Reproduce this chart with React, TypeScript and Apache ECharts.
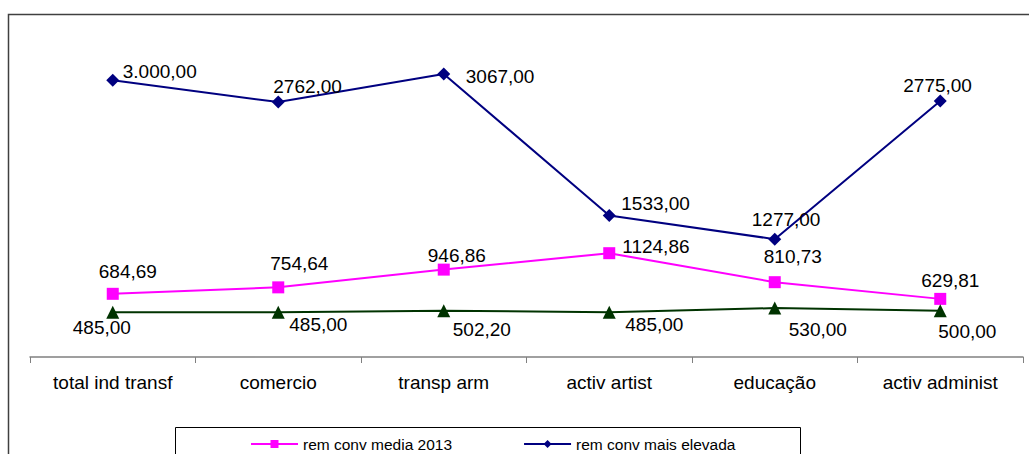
import React, { useEffect, useRef } from "react";
import * as echarts from "echarts";

const categories = ["total ind transf", "comercio", "transp arm", "activ artist", "educação", "activ administ"];
const mediaValues = [684.69, 754.64, 946.86, 1124.86, 810.73, 629.81];
const mediaLabels = ["684,69", "754,64", "946,86", "1124,86", "810,73", "629,81"];
const elevadaValues = [3000, 2762, 3067, 1533, 1277, 2775];
const elevadaLabels = ["3.000,00", "2762,00", "3067,00", "1533,00", "1277,00", "2775,00"];
const minimaValues = [485, 485, 502.2, 485, 530, 500];
const minimaLabels = ["485,00", "485,00", "502,20", "485,00", "530,00", "500,00"];

const seriesNames = ["rem conv media 2013", "rem conv mais elevada", "rem conv minima"];

// label placement (text left edge / vertical centre relative to the point)
const mediaOffsets = [[-14, -22], [-8, -24], [-16, -14], [13, -7], [-11, -26], [-19, -18]];
const elevadaOffsets = [[10, -9], [-5, -16], [22, 3], [12, -12], [-23, -20], [-37, -15]];
const minimaOffsets = [[-40, 15], [11, 12], [9, 19], [16, 12], [14, 21], [-2, 21]];

const FONT = "'Liberation Sans', Arial, sans-serif";

function buildData(values: number[], labels: string[], offsets: number[][]) {
  return values.map((v, i) => ({
    value: v,
    label: { formatter: labels[i], offset: offsets[i] },
  }));
}

const labelBase = {
  show: true,
  position: "inside" as const,
  align: "left" as const,
  verticalAlign: "middle" as const,
  color: "#000",
  fontSize: 19,
  fontFamily: FONT,
};

export default function App() {
  const ref = useRef<HTMLDivElement>(null);
  useEffect(() => {
    if (!ref.current) return;
    const chart = echarts.init(ref.current, undefined, { renderer: "svg" });
    chart.setOption({
      animation: false,
      backgroundColor: "#fff",
      grid: { left: 30, right: 6, top: 34, bottom: 97, containLabel: false },
      xAxis: {
        type: "category",
        data: categories,
        boundaryGap: true,
        axisLine: { lineStyle: { color: "#808080", width: 1.5 } },
        axisTick: { show: true, length: 6, inside: false, lineStyle: { color: "#808080", width: 1 } },
        axisLabel: { color: "#000", fontSize: 19, fontFamily: FONT, margin: 16 },
        splitLine: { show: false },
      },
      yAxis: {
        type: "value",
        min: 0,
        max: 3500,
        show: false,
        splitLine: { show: false },
      },
      legend: {
        data: [seriesNames[0], seriesNames[1]],
        left: 250,
        top: 436,
        padding: 0,
        itemWidth: 47,
        itemHeight: 10,
        itemGap: 71,
        textStyle: { color: "#000", fontSize: 15.5, fontFamily: FONT },
      },
      graphic: [
        {
          type: "rect",
          shape: { x: 8.5, y: 14.5, width: 1100, height: 600 },
          style: { fill: "none", stroke: "#404040", lineWidth: 1.5 },
          silent: true,
          z: -10,
        },
        {
          type: "rect",
          shape: { x: 175.5, y: 427.5, width: 625, height: 60 },
          style: { fill: "none", stroke: "#000", lineWidth: 1 },
          silent: true,
          z: -5,
        },
      ],
      series: [
        {
          name: seriesNames[0],
          type: "line",
          data: buildData(mediaValues, mediaLabels, mediaOffsets),
          symbol: "rect",
          symbolSize: 12,
          lineStyle: { color: "#FF00FF", width: 2 },
          itemStyle: { color: "#FF00FF" },
          label: labelBase,
          z: 3,
        },
        {
          name: seriesNames[1],
          type: "line",
          data: buildData(elevadaValues, elevadaLabels, elevadaOffsets),
          symbol: "diamond",
          symbolSize: 13,
          lineStyle: { color: "#000080", width: 2 },
          itemStyle: { color: "#000080" },
          label: labelBase,
          z: 4,
        },
        {
          name: seriesNames[2],
          type: "line",
          data: buildData(minimaValues, minimaLabels, minimaOffsets),
          symbol: "triangle",
          symbolSize: 13,
          lineStyle: { color: "#003300", width: 2 },
          itemStyle: { color: "#003300" },
          label: labelBase,
          z: 5,
        },
      ],
    });
    return () => chart.dispose();
  }, []);
  return (
    <div
      ref={ref}
      style={{ position: "fixed", left: 0, top: 0, width: 1029, height: 454, background: "#fff" }}
    />
  );
}
